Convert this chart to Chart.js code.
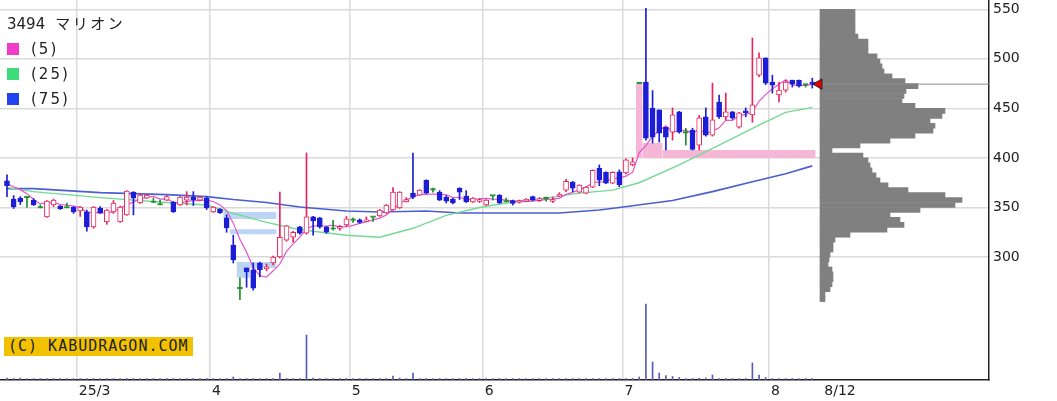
<!DOCTYPE html>
<html lang="ja">
<head>
<meta charset="utf-8">
<title>3494 マリオン</title>
<script src="https://cdn.jsdelivr.net/npm/chart.js@4.4.1/dist/chart.umd.min.js"></script>
<style>
  html, body { margin: 0; padding: 0; background: #fff; overflow: hidden; }
  #wrap { position: relative; width: 1057px; height: 401px; }
  #chart { position: absolute; left: 0; top: 0; }
  #legend { position: absolute; left: 7px; top: 12px; font-family: 'DejaVu Sans', 'Noto Sans CJK JP', sans-serif; font-size: 15px; color: #222; }
  #legend div { height: 25px; line-height: 25px; white-space: nowrap; }
  #legend .kana { margin-left: 10px; letter-spacing: 2.5px; }
  #legend .sw { display: inline-block; width: 12px; height: 12px; margin-right: 12px; vertical-align: -1px; }
  #legend .p { letter-spacing: 2px; }
  #credit { position: absolute; left: 4px; top: 337px; height: 19px; line-height: 19px; padding: 0 4px; background: #f2c200; font-family: 'DejaVu Sans Mono', monospace; font-size: 15px; color: #222; letter-spacing: 1px; }
</style>
</head>
<body>
<div id="wrap">
  <canvas id="chart" width="1057" height="401"></canvas>
  <div id="legend"></div>
  <div id="credit">(C) KABUDRAGON.COM</div>
</div>
<script>
// daily candles, 2025/2/13 .. 2025/8/12 (one entry per trading day)
const opens = [377,358.5,359.5,360,357.5,349.5,340.5,352.5,351.5,349.5,
  350.5,346.5,345.5,330.5,349.5,335.5,345.5,335.5,342.5,365.5,
  354.5,359.5,355,352.5,357.5,355.5,352.5,357.5,360.5,357.5,
  359.5,345.5,348.5,339.5,312,268,289,287,294,288,
  294,300,317,320,330.5,324,340.5,339.5,330.5,328,
  329,332.5,337,337.5,336,340,341.5,344.5,347.5,349.5,
  355.5,364.5,362.5,377.5,367.5,365.5,360.5,358.5,369.5,361.5,
  355.5,356,352.5,361.5,362.5,355.5,357,355,356.5,361,
  357,359,356,361.5,367.5,375.5,365.5,364.5,370.5,389.5,
  385.5,374.5,386,385,393,475,476.5,450,448.5,431,
  426,446.5,425,428,413,441.5,423,456.5,441.5,446.5,
  431,447.5,443.5,483.5,501,476.5,463.5,468.5,478.5,478.5,
  473.5,476.5];
const highs = [383,362,361,361,359,352.5,357,358.5,352,354.5,
  351,351,347.5,351,351,348,357,351.5,367,366,
  364,363,359.5,357.5,362.5,356,361,366,366,361,
  361,351,349,342.5,322,279,289,294,295,293,
  301,365.5,332,326,331,405,341,340,331,337,
  332,341,339.5,338.5,340.5,340,348,353,370,366,
  360,405,368,378,369.5,367,362,359.5,370,367,
  360,359,358,361.5,363,359.5,357.5,357.5,359,361.5,
  360,360.5,360.5,365,378.5,376.5,373,371,388,393,
  386,386,388,399,400,475,551,468,448.5,431,
  450.5,447,430,430,443,450.5,475.5,463.5,465.5,447,
  446,450.5,521,506,501,483.5,476.5,478.5,478.5,478.5,
  474.5,480.5];
const lows = [361,349,353,350,352,349.5,340,351,348,349.5,
  344,341,326,329,344,333,344,335,342,342.5,
  354,359,355,352.5,357,345,352,352.5,352,357,
  348,345,344,325,294,257,269.5,266.5,280,286,
  292,299,316,315,323,323,322,329,324,327,
  327,331,335,334,335.5,336,341,344,347,349,
  355.5,359,362,364,365.5,357,354.5,353.5,358,355,
  355,355,352,357.5,354,355.5,352.5,354.5,356,357,
  356,356.5,355,361,366,366,365,364,370,372,
  374,374,371,384,392,475,418,415,416,408,
  418,425,413,408,408,422,422,440,438.5,439,
  430,441.5,436,482,474,465.5,456.5,466.5,471.5,471.5,
  471.5,470.5];
const closes = [372,350.5,355.5,360,352.5,349.5,356.5,357.5,348.5,349.5,
  345.5,350.5,330.5,350.5,344.5,347.5,354.5,350.5,366.5,359.5,
  362.5,362.5,355,352.5,361,345.5,360.5,360.5,358,360.5,
  349.5,350.5,344.5,329.5,297,268,285,268.5,287,290,
  300,320,331.5,325,324,340.5,336.5,330.5,325,328,
  331,338.5,337,335,337,340,347.5,352.5,365.5,365.5,
  358,360.5,367.5,364.5,367.5,357.5,356.5,354.5,365.5,355.5,
  359.5,358,357.5,361.5,354.5,355.5,354,357,358.5,357.5,
  359,359,358,363.5,376.5,369.5,372.5,370.5,387.5,377.5,
  374.5,385.5,373,398,396,475,420,421,425,421,
  443.5,426,425,408.5,440.5,423,438.5,441.5,446.5,440.5,
  445.5,445.5,453.5,501,475.5,473.5,468.5,476.5,474.5,472.5,
  473.5,474.5];
// relative volume
const volumes = [2,1.5,2,1.5,1.5,1.5,1.5,1.5,1.5,1.5,
  1.5,1.5,1.5,1.5,1.5,1.5,1.5,1.5,1.5,1.5,
  1.5,1.5,1.5,1.5,1.5,1.5,1.5,1.5,1.5,1.5,
  1.5,1.5,1.5,1.5,3,1.5,1.5,1.5,1.5,1.5,
  1.5,7,1.5,1.5,1.5,45,2,1.5,1.5,1.5,
  1.5,1.5,1.5,1.5,1.5,1.5,1.5,1.5,4,2,
  1.5,7,1.5,1.5,1.5,1.5,1.5,1.5,1.5,1.5,
  1.5,1.5,1.5,1.5,1.5,1.5,1.5,1.5,1.5,1.5,
  1.5,1.5,1.5,1.5,1.5,1.5,1.5,1.5,1.5,1.5,
  1.5,1.5,1.5,1.5,1.5,3,76,18,7,4.5,
  3.5,2.5,1.5,1.5,2,2,5,1.5,1.5,1.5,
  1.5,1.5,17,5,2.5,1.5,1.5,1.5,1.5,1.5,
  1.5,1.5];

// moving averages (5 is computed from closes, first days)
const ma5Head = [374, 371, 368, 364];
const ma25Days = [0,4,14,24,30,34,39,43,46,51,56,61,66,71,76,81,86,91,95,101,107,113,117,121];
const ma25Vals = [370,366,360,355,352.5,344,335,329,326,322,320,329,342,350,355.5,359.5,364.5,367.5,375,393,413,433,446,451];
const ma75Days = [0,4,14,24,30,34,39,44,51,56,63,68,76,83,89,92,100,106,112,117,121];
const ma75Vals = [369,369,365,363,361,358,355,350.5,346.5,345.5,346.5,344.5,344.5,344.5,347.5,350,357,366,376,384,392];

// price gaps (windows): first day after the gap .. day it closed
const gapStartDay = [33, 34, 35, 37, 95, 96, 99];
const gapEndDay = [41, 41, 37, 41, 96, 99, 122];
const gapLow = [338.5, 323, 279, 289, 400, 400, 400];
const gapHigh = [345.5, 328, 295, 295, 475, 415, 408];
const gapUp = [false, false, false, false, true, true, true];

// volume by price
const profilePrices = [257.5,262.5,267.5,272.5,277.5,282.5,287.5,292.5,297.5,302.5,
  307.5,312.5,317.5,322.5,327.5,332.5,337.5,342.5,347.5,352.5,
  357.5,362.5,367.5,372.5,377.5,382.5,387.5,392.5,397.5,402.5,
  407.5,412.5,417.5,422.5,427.5,432.5,437.5,442.5,447.5,452.5,
  457.5,462.5,467.5,472.5,477.5,482.5,487.5,492.5,497.5,502.5,
  507.5,512.5,517.5,522.5,527.5,532.5,537.5,542.5,547.5];
const profileVols = [5,5,10,12,13,13,12,8,9,10,
  13,13,15,30,67,84,80,70,100,135,
  142,125,88,68,60,56,52,50,48,43,
  12,40,70,95,113,115,110,122,125,95,
  82,84,86,98,85,72,64,62,60,57,
  48,48,48,38,35,35,35,35,35];

// axis labels
const monthStartDay = [11, 31, 52, 72, 93, 115];
const monthLabels = ['25/3', '4', '5', '6', '7', '8'];
const lastDateLabel = '8/12';
const priceTicks = [300, 350, 400, 450, 500, 550];
const maPeriods = [5, 25, 75];
const maSwatch = ['#f03cc8', '#3ddc7a', '#2244ee'];

const X_MIN = -1.05, X_MAX = 147.55;
const Y_MIN = 175.9, Y_MAX = 559.4;
const GRID = '#dadada';
const UP = '#e6245e', DOWN = '#1d1dd6', FLAT = '#1f8f2f';

const lastIdx = closes.length - 1;
const candleColor = closes.map((c, i) => c > opens[i] ? UP : (c < opens[i] ? DOWN : FLAT));
const bodyFill = closes.map((c, i) => c > opens[i] ? '#ffffff' : candleColor[i]);
const ma5 = closes.map((c, i) => i < 4 ? ma5Head[i] : closes.slice(i - 4, i + 1).reduce((a, b) => a + b, 0) / 5);

const tickValues = monthStartDay.map(d => d - 0.5).concat([lastIdx + 1.5]);
const tickTexts = monthLabels.concat([lastDateLabel]);

// legend
const legend = document.getElementById('legend');
legend.innerHTML = '<div>3494<span class="kana">マリオン</span></div>' + maPeriods.map((p, k) =>
  '<div><span class="sw" style="background:' + maSwatch[k] + '"></span><span class="p">(' + p + ')</span></div>').join('');

const gapSets = gapStartDay.map((s, k) => ({
  type: 'line', order: 9,
  data: [{ x: s - 0.5, y: gapHigh[k] }, { x: gapEndDay[k] - 0.5, y: gapHigh[k] }],
  fill: { value: gapLow[k] },
  backgroundColor: gapUp[k] ? '#f6b6d6' : '#bcd5f4',
  borderWidth: 0, pointRadius: 0
}));

// hidden helper axes must not reserve any room
const noPad = s => { s.paddingTop = 0; s.paddingBottom = 0; s.paddingLeft = 0; s.paddingRight = 0; };
const hidden = (min, max) => ({
  type: 'linear', display: false, min, max, offset: false,
  ticks: { display: false }, grid: { display: false, offset: false },
  afterFit: s => { noPad(s); }
});

new Chart(document.getElementById('chart'), {
  type: 'line',
  data: {
    datasets: [
      {
        type: 'line', order: 0,
        data: [{ x: lastIdx + 1, y: closes[lastIdx] }],
        showLine: false, pointStyle: 'triangle', pointRotation: -90, pointRadius: 6,
        pointBackgroundColor: '#e80000', pointBorderColor: '#222', pointBorderWidth: 1
      },
      {
        type: 'line', order: 1,
        data: [{ x: lastIdx + 1, y: closes[lastIdx] }, { x: X_MAX, y: closes[lastIdx] }],
        borderColor: '#8c8c8c', borderWidth: 1, pointRadius: 0
      },
      {
        type: 'bar', order: 2, grouped: false,
        data: opens.map((o, i) => ({ x: i, y: [o, closes[i]] })),
        backgroundColor: bodyFill, borderColor: candleColor, borderWidth: 1, borderSkipped: false,
        barThickness: 5, minBarLength: 1.5
      },
      {
        type: 'bar', order: 3, grouped: false,
        data: lows.map((l, i) => ({ x: i, y: [l, highs[i]] })),
        backgroundColor: candleColor, barThickness: 1, minBarLength: 1
      },
      {
        type: 'line', order: 4,
        data: ma5.map((v, i) => ({ x: i, y: v })),
        borderColor: '#e455cc', borderWidth: 1.2, pointRadius: 0, fill: false
      },
      {
        type: 'line', order: 5,
        data: ma25Days.map((d, k) => ({ x: d, y: ma25Vals[k] })),
        borderColor: '#74d994', borderWidth: 1.4, pointRadius: 0, fill: false
      },
      {
        type: 'line', order: 6,
        data: ma75Days.map((d, k) => ({ x: d, y: ma75Vals[k] })),
        borderColor: '#4a5fd2', borderWidth: 1.6, pointRadius: 0, fill: false
      },
      {
        type: 'bar', order: 7, grouped: false, yAxisID: 'yv',
        data: volumes.map((v, i) => ({ x: i, y: v })),
        backgroundColor: '#5a5ab8', barThickness: 1
      },
      {
        type: 'bar', order: 8, grouped: false, indexAxis: 'y', xAxisID: 'xp', yAxisID: 'yp',
        data: profileVols.map((v, k) => ({ x: v, y: profilePrices[k] })),
        backgroundColor: '#808080', borderWidth: 0, barPercentage: 1, categoryPercentage: 1
      },
      ...gapSets
    ]
  },
  options: {
    responsive: false,
    animation: false,
    devicePixelRatio: 1,
    layout: { padding: 0, autoPadding: false },
    plugins: { legend: { display: false }, tooltip: { enabled: false } },
    font: { family: "'DejaVu Sans', sans-serif" },
    scales: {
      x: {
        type: 'linear', position: 'bottom', min: X_MIN, max: X_MAX, offset: false,
        afterBuildTicks: s => { s.ticks = tickValues.map(v => ({ value: v })); },
        afterFit: s => { s.height = 21; noPad(s); },
        ticks: {
          autoSkip: false, maxRotation: 0, minRotation: 0, align: 'start', labelOffset: 2, padding: 3,
          color: '#222', font: { family: "'DejaVu Sans', sans-serif", size: 14 },
          callback: (v, k) => tickTexts[k]
        },
        grid: { offset: false, drawTicks: false, lineWidth: 1.5, color: c => c.index < monthLabels.length ? GRID : 'rgba(0,0,0,0)' },
        border: { display: true, color: '#222', width: 1.5 }
      },
      y: {
        type: 'linear', position: 'right', min: Y_MIN, max: Y_MAX, offset: false,
        afterBuildTicks: s => { s.ticks = priceTicks.map(v => ({ value: v })); },
        afterFit: s => { s.width = 68; noPad(s); },
        ticks: { padding: 4, color: '#222', font: { family: "'DejaVu Sans', sans-serif", size: 14 }, callback: v => String(v) },
        grid: { offset: false, drawTicks: false, lineWidth: 1.5, color: GRID },
        border: { display: true, color: '#222', width: 1.5 }
      },
      yv: hidden(0, 380),
      xp: hidden(-820, 169),
      yp: hidden(Y_MIN, Y_MAX)
    }
  }
});
</script>
</body>
</html>
